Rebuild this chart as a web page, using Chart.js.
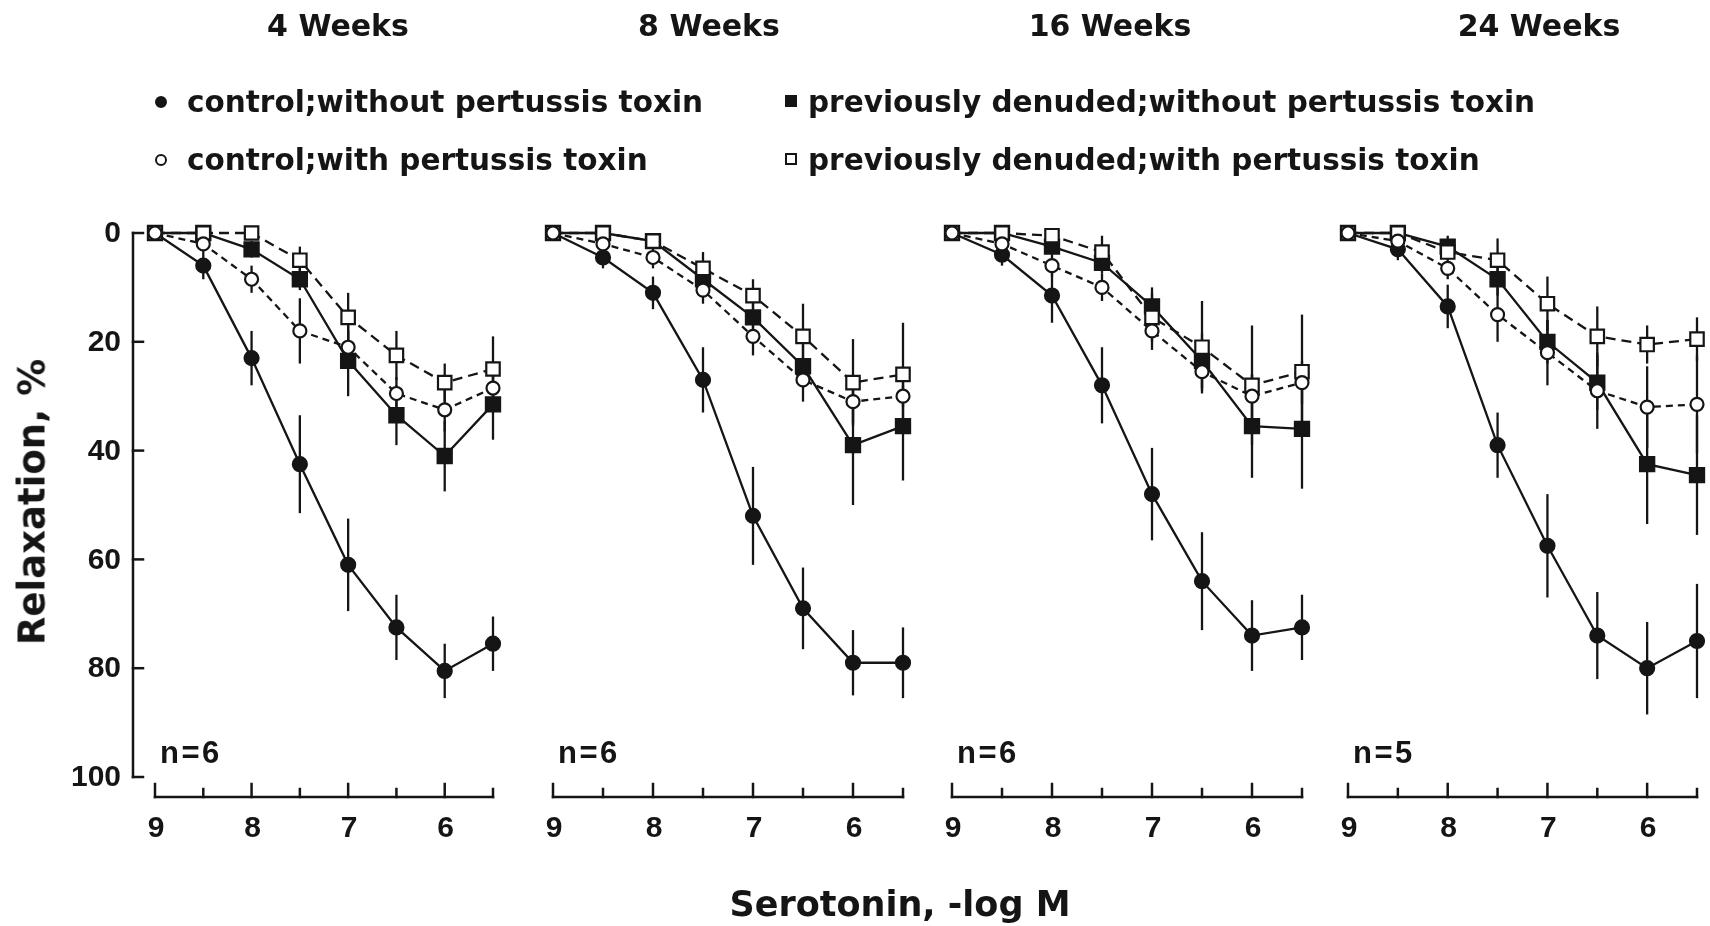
<!DOCTYPE html>
<html>
<head>
<meta charset="utf-8">
<script src="https://cdn.jsdelivr.net/npm/chart.js@4.4.0/dist/chart.umd.min.js"></script>
<style>
    body { margin: 0; background: #fff; }
    #figura { position: relative; width: 1710px; height: 926px; overflow: hidden; background: #fff;
              font-family: "DejaVu Sans", sans-serif; font-weight: bold; color: #151515; }
    #figura canvas { position: absolute; top: 0; }
    .texto { position: absolute; white-space: nowrap; }
    .titulo { font-size: 30px; line-height: 30px; transform: translateX(-50%); }
    .leyenda { font-size: 29.5px; line-height: 29.5px; }
    .marca { position: absolute; box-sizing: border-box; width: 12px; height: 12px; border: 2px solid #151515; }
</style>
</head>
<body>
<div id="figura"></div>

<script>
// concentraciones de serotonina (-log M)
const dosis = [9, 8.5, 8, 7.5, 7, 6.5, 6, 5.5]
const semanas = ['4 Weeks', '8 Weeks', '16 Weeks', '24 Weeks']
const n_animales = [6, 6, 6, 5]

// relajacion % por panel (4, 8, 16, 24 semanas)
const control_sin = [
    [0, 6, 23, 42.5, 61, 72.5, 80.5, 75.5],
    [0, 4.5, 11, 27, 52, 69, 79, 79],
    [0, 4, 11.5, 28, 48, 64, 74, 72.5],
    [0, 3, 13.5, 39, 57.5, 74, 80, 75]
]
const err_control_sin = [
    [0, 2.5, 5, 9, 8.5, 6, 5, 5],
    [0, 2, 3, 6, 9, 7.5, 6, 6.5],
    [0, 2, 5, 7, 8.5, 9, 6.5, 6],
    [0, 2, 4, 6, 9.5, 8, 8.5, 10.5]
]
const control_con = [
    [0, 2, 8.5, 18, 21, 29.5, 32.5, 28.5],
    [0, 2, 4.5, 10.5, 19, 27, 31, 30],
    [0, 2, 6, 10, 18, 25.5, 30, 27.5],
    [0, 1.5, 6.5, 15, 22, 29, 32, 31.5]
]
const err_control_con = [
    [0, 1.5, 2.5, 6, 3, 3, 4, 3],
    [0, 1.5, 2, 2.5, 3.5, 4, 4, 2],
    [0, 1.5, 2, 2.5, 3.5, 3.5, 4, 4],
    [0, 1.5, 2, 5, 6, 7, 7.5, 9]
]
const denudado_sin = [
    [0, 0, 3, 8.5, 23.5, 33.5, 41, 31.5],
    [0, 0, 1.5, 8.5, 15.5, 24.5, 39, 35.5],
    [0, 0, 2.5, 5.5, 13.5, 23.5, 35.5, 36],
    [0, 0, 2.5, 8.5, 20, 27.5, 42.5, 44.5]
]
const err_denudado_sin = [
    [0, 1, 1.5, 2, 6.5, 5.5, 6.5, 6.5],
    [0, 1, 1.5, 2, 3, 4, 11, 10],
    [0, 1, 1.5, 2, 3.5, 5, 9.5, 11],
    [0, 1, 2, 3, 4, 5, 11, 11]
]
const denudado_con = [
    [0, 0, 0, 5, 15.5, 22.5, 27.5, 25],
    [0, 0, 1.5, 6.5, 11.5, 19, 27.5, 26],
    [0, 0, 0.5, 3.5, 15.5, 21, 28, 25.5],
    [0, 0, 3.5, 5, 13, 19, 20.5, 19.5]
]
const err_denudado_con = [
    [0, 0, 1, 2.5, 4.5, 4.5, 3.5, 6],
    [0, 0, 1, 3, 3, 6, 8, 9.5],
    [0, 0, 1, 3, 4.5, 8.5, 11, 10.5],
    [0, 0, 1, 4, 5, 5.5, 3.5, 4]
]

// ejes
const ticks_x = [9, 8.5, 8, 7.5, 7, 6.5, 6, 5.5]
const etiquetas_x = ['9', '', '8', '', '7', '', '6', '']
const ticks_y = [0, 20, 40, 60, 80, 100]

// textos de la leyenda
const nombres_series = [
    'control;without pertussis toxin',
    'control;with pertussis toxin',
    'previously denuded;without pertussis toxin',
    'previously denuded;with pertussis toxin'
]

const NEGRO = '#151515'
const FUENTE_NUM = '"Liberation Sans", Arial, sans-serif'

// posicion de cada lienzo en la figura
const paneles = [
    { left: 0, width: 520, padL: 155, padR: 27 },
    { left: 520, width: 410, padL: 33, padR: 27 },
    { left: 930, width: 400, padL: 22, padR: 28 },
    { left: 1330, width: 380, padL: 18, padR: 13 }
]

document.addEventListener('DOMContentLoaded', () => {
    const figura = document.getElementById('figura')
    for (let i = 0; i < semanas.length; i++) {
        dibujar_panel(figura, i)
    }
    poner_textos(figura)
})

// barras de error verticales (se dibujan antes que los puntos)
const barras_error = {
    id: 'barras_error',
    beforeDatasetsDraw(chart) {
        const ctx = chart.ctx
        const x = chart.scales.x
        const y = chart.scales.y
        ctx.save()
        ctx.strokeStyle = NEGRO
        ctx.lineWidth = 2.3
        chart.data.datasets.forEach(ds => {
            ds.errores.forEach((e, j) => {
                if (!e) return
                const punto = ds.data[j]
                const px = x.getPixelForValue(punto.x)
                ctx.beginPath()
                ctx.moveTo(px, y.getPixelForValue(punto.y - e))
                ctx.lineTo(px, y.getPixelForValue(punto.y + e))
                ctx.stroke()
            })
        })
        ctx.restore()
    }
}

// ejes al estilo de la figura: eje x separado debajo, eje y solo en el primer panel
const ejes = {
    id: 'ejes',
    afterDraw(chart, args, opts) {
        const ctx = chart.ctx
        const x = chart.scales.x
        const y = chart.scales.y
        const area = chart.chartArea
        ctx.save()
        ctx.strokeStyle = NEGRO
        ctx.fillStyle = NEGRO
        ctx.lineWidth = 2.5
        ctx.lineCap = 'square'

        // eje x
        const y_eje = area.bottom + 20
        ctx.beginPath()
        ctx.moveTo(x.getPixelForValue(ticks_x[0]), y_eje)
        ctx.lineTo(x.getPixelForValue(ticks_x[ticks_x.length - 1]), y_eje)
        ctx.stroke()
        ctx.font = 'bold 30px ' + FUENTE_NUM
        ctx.textAlign = 'center'
        ctx.textBaseline = 'middle'
        ticks_x.forEach((t, k) => {
            const px = x.getPixelForValue(t)
            const largo = etiquetas_x[k] ? 13 : 8
            ctx.beginPath()
            ctx.moveTo(px, y_eje)
            ctx.lineTo(px, y_eje - largo)
            ctx.stroke()
            if (etiquetas_x[k]) ctx.fillText(etiquetas_x[k], px + 1, y_eje + 32)
        })

        // eje y
        if (opts.conEjeY) {
            const x_eje = area.left - 22
            ctx.beginPath()
            ctx.moveTo(x_eje, y.getPixelForValue(ticks_y[0]))
            ctx.lineTo(x_eje, y.getPixelForValue(ticks_y[ticks_y.length - 1]))
            ctx.stroke()
            ctx.textAlign = 'right'
            ticks_y.forEach(t => {
                const py = y.getPixelForValue(t)
                ctx.beginPath()
                ctx.moveTo(x_eje, py)
                ctx.lineTo(x_eje + 10, py)
                ctx.stroke()
                ctx.fillText(String(t), x_eje - 12, py + 1)
            })
        }

        // numero de animales
        ctx.font = 'bold 31px ' + FUENTE_NUM
        ctx.textAlign = 'left'
        ctx.textBaseline = 'alphabetic'
        ctx.letterSpacing = '2.5px'
        ctx.fillText('n=' + opts.n, x.getPixelForValue(dosis[0]) + 5, y.getPixelForValue(100) - 14)
        ctx.restore()
    }
}

function serie(valores, errores, estilo) {
    return Object.assign({
        data: dosis.map((d, j) => ({ x: d, y: valores[j] })),
        errores: errores,
        borderColor: NEGRO,
        borderWidth: 2.3,
        pointBorderColor: NEGRO,
        pointBorderWidth: 2.2,
        tension: 0,
        clip: false
    }, estilo)
}

function dibujar_panel(figura, i) {
    const geo = paneles[i]
    const canvas = document.createElement('canvas')
    canvas.width = geo.width
    canvas.height = 926
    canvas.style.left = geo.left + 'px'
    figura.appendChild(canvas)

    const datasets = [
        serie(control_con[i], err_control_con[i], {
            borderDash: [7, 5], pointStyle: 'circle', pointRadius: 6.5, pointBackgroundColor: '#fff'
        }),
        serie(denudado_con[i], err_denudado_con[i], {
            borderDash: [10, 6], pointStyle: 'rect', pointRadius: 9.5, pointBackgroundColor: '#fff'
        }),
        serie(denudado_sin[i], err_denudado_sin[i], {
            pointStyle: 'rect', pointRadius: 10, pointBackgroundColor: NEGRO
        }),
        serie(control_sin[i], err_control_sin[i], {
            pointStyle: 'circle', pointRadius: 7, pointBackgroundColor: NEGRO
        })
    ]

    new Chart(canvas.getContext('2d'), {
        type: 'line',
        data: { datasets: datasets },
        options: {
            responsive: false,
            animation: false,
            events: [],
            layout: { padding: { left: geo.padL, right: geo.padR, top: 233, bottom: 149 } },
            plugins: {
                legend: { display: false },
                tooltip: { enabled: false },
                ejes: { conEjeY: i === 0, n: n_animales[i] }
            },
            scales: {
                x: { type: 'linear', min: 5.5, max: 9, reverse: true, display: false },
                y: { type: 'linear', min: 0, max: 100, reverse: true, display: false }
            }
        },
        plugins: [barras_error, ejes]
    })
}

// titulos, leyenda y nombres de los ejes
function poner_textos(figura) {
    const centros = [338, 709, 1110, 1539]
    semanas.forEach((s, k) => {
        const d = document.createElement('div')
        d.className = 'texto titulo'
        d.textContent = s
        d.style.left = centros[k] + 'px'
        d.style.top = '11px'
        figura.appendChild(d)
    })

    // leyenda en dos columnas
    const pos_leyenda = [
        { x: 187, y: 88, mx: 161, my: 102, forma: 'circulo', lleno: true },
        { x: 187, y: 146, mx: 161, my: 160, forma: 'circulo', lleno: false },
        { x: 808, y: 88, mx: 791, my: 101, forma: 'cuadro', lleno: true },
        { x: 808, y: 146, mx: 791, my: 159, forma: 'cuadro', lleno: false }
    ]
    pos_leyenda.forEach((p, k) => {
        const m = document.createElement('span')
        m.className = 'marca'
        m.style.left = (p.mx - 6) + 'px'
        m.style.top = (p.my - 6) + 'px'
        m.style.background = p.lleno ? NEGRO : '#fff'
        if (p.forma === 'circulo') m.style.borderRadius = '50%'
        figura.appendChild(m)

        const t = document.createElement('div')
        t.className = 'texto leyenda'
        t.textContent = nombres_series[k]
        t.style.left = p.x + 'px'
        t.style.top = p.y + 'px'
        figura.appendChild(t)
    })

    const tx = document.createElement('div')
    tx.className = 'texto'
    tx.textContent = 'Serotonin, -log M'
    tx.style.cssText += 'font-size:35px;line-height:35px;left:900px;top:887px;transform:translateX(-50%);'
    figura.appendChild(tx)

    const ty = document.createElement('div')
    ty.className = 'texto'
    ty.textContent = 'Relaxation, %'
    ty.style.cssText += 'font-size:37px;line-height:37px;left:32px;top:502px;transform:translate(-50%,-50%) rotate(-90deg);'
    figura.appendChild(ty)
}
</script>
</body>
</html>
